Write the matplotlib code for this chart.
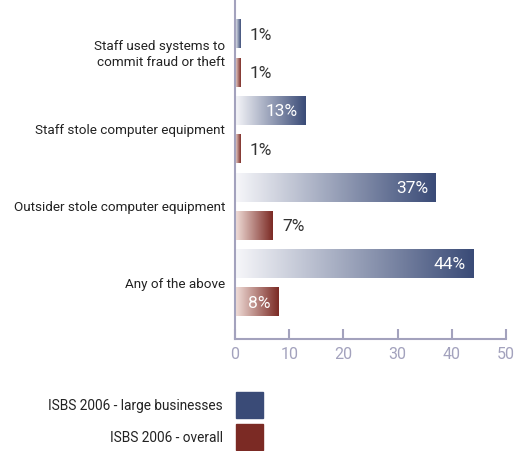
import numpy as np
import matplotlib.pyplot as plt
from matplotlib.colors import LinearSegmentedColormap
from matplotlib.patches import Rectangle

plt.rcParams['font.family'] = ['Roboto', 'DejaVu Sans']

# === DATA ===
categories = ["Staff used systems to\ncommit fraud or theft",
              "Staff stole computer equipment",
              "Outsider stole computer equipment",
              "Any of the above"]
large = [1, 13, 37, 44]
overall = [1, 1, 7, 8]
series_names = ["ISBS 2006 - large businesses", "ISBS 2006 - overall"]
xticks = [0, 10, 20, 30, 40, 50]

BLUE = "#3a4b77"
RED = "#7b2a24"
AXC = "#a3a2bd"
cmaps = [LinearSegmentedColormap.from_list("b", ["#f7f7fa", BLUE]),
         LinearSegmentedColormap.from_list("r", ["#f2e0db", RED])]

fig = plt.figure(figsize=(5.26, 4.52), dpi=100)
ax = fig.add_axes([0.4468, 0.2478, 0.5152, 0.7522])

grad = np.linspace(0, 1, 256).reshape(1, -1)
for i in range(len(categories)):
    for s, vals in enumerate([large, overall]):
        y = 2 * i + s
        bar = ax.barh(y, vals[i], height=0.74, color="none", edgecolor="none")[0]
        x0, y0 = bar.get_x(), bar.get_y()
        w, h = bar.get_width(), bar.get_height()
        ax.imshow(grad, cmap=cmaps[s], aspect="auto", interpolation="bicubic",
                  extent=(x0, x0 + w, y0 + h, y0), zorder=2)
        v = vals[i]
        if v >= 8:
            ax.text(v - 1.4, y, f"{v}%", ha="right", va="center",
                    color="white", fontsize=12.5)
        else:
            ax.text(v + 1.7, y, f"{v}%", ha="left", va="center",
                    color="#333333", fontsize=12.5)

ax.set_xlim(0, 50)
ax.set_ylim(7.96, -0.92)
ax.set_xticks(xticks)
ax.set_xticklabels([str(t) for t in xticks])
ax.set_yticks([])
for sp in ["top", "right"]:
    ax.spines[sp].set_visible(False)
for sp in ["left", "bottom"]:
    ax.spines[sp].set_color(AXC)
    ax.spines[sp].set_linewidth(1.5)
ax.tick_params(axis="x", direction="in", length=7, width=1.5, color=AXC,
               labelcolor=AXC, labelsize=11.5, pad=5)

# category labels
for i, c in enumerate(categories):
    ax.text(-1.8, 2 * i + 0.5, c, ha="right", va="center", fontsize=9.7,
            color="#222222", linespacing=1.3)

# legend
for k, (name, col) in enumerate(zip(series_names, [BLUE, RED])):
    yb = 1 - (419 + 32 * k) / 452
    fig.add_artist(Rectangle((236 / 526, yb), 27 / 526, 26 / 452,
                             transform=fig.transFigure, color=col))
    fig.text(223 / 526, yb + 13 / 452, name, ha="right", va="center",
             fontsize=9.8, color="#222222")

fig.savefig("out.png", dpi=100)
